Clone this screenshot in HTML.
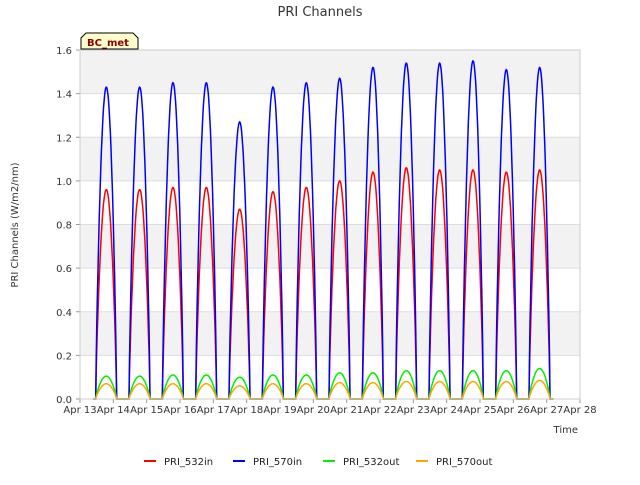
<!DOCTYPE html>
<html><head><meta charset="utf-8"><style>
body{margin:0;background:#fff;font-family:"Liberation Sans","DejaVu Sans",sans-serif}
svg text{font-family:"DejaVu Sans","Liberation Sans",sans-serif}
</style></head><body>
<svg id="c" width="640" height="480">
<rect width="640" height="480" fill="#fff"/>
<text x="320" y="16" text-anchor="middle" font-size="13" fill="#333">PRI Channels</text>
<text transform="translate(18,225) rotate(-90)" text-anchor="middle" font-size="10" fill="#333">PRI Channels (W/m2/nm)</text>
<text x="578" y="433" text-anchor="end" font-size="10" fill="#333">Time</text>
<g id="grid"></g>
<g id="series"></g>
<g id="axes"></g>
<g>
<path d="M81,49 L81,38 L86,33 L133,33 L138,38 L138,49 Z" fill="#ffffcc" stroke="#000" stroke-width="1"/>
<text x="87" y="46" font-size="10" font-weight="bold" fill="#8b0000">BC_met</text>
</g>
<g id="legend"></g>
</svg>
<script>
const days=["Apr 13","Apr 14","Apr 15","Apr 16","Apr 17","Apr 18","Apr 19","Apr 20","Apr 21","Apr 22","Apr 23","Apr 24","Apr 25","Apr 26","Apr 27","Apr 28"];
const yTicks=[0,0.2,0.4,0.6,0.8,1.0,1.2,1.4,1.6];
const peak570in=[1.43,1.43,1.45,1.45,1.27,1.43,1.45,1.47,1.52,1.54,1.54,1.55,1.51,1.52];
const peak532in=[0.96,0.96,0.97,0.97,0.87,0.95,0.97,1.0,1.04,1.06,1.05,1.05,1.04,1.05];
const peak532out=[0.105,0.105,0.11,0.11,0.1,0.11,0.11,0.12,0.12,0.13,0.13,0.13,0.13,0.14];
const peak570out=[0.07,0.07,0.07,0.07,0.06,0.07,0.07,0.075,0.075,0.08,0.08,0.08,0.08,0.085];
const X0=80,X1=580,Y0=399,Y1=50;
const x=d=>X0+d/15*(X1-X0);
const y=v=>Y0-v/1.6*(Y0-Y1);
const NS="http://www.w3.org/2000/svg";
function el(t,a,p){const e=document.createElementNS(NS,t);for(const k in a)e.setAttribute(k,a[k]);p.appendChild(e);return e;}
const grid=document.getElementById('grid');
for(let i=0;i<yTicks.length-1;i++){
  const r=el('rect',{x:X0,y:y(yTicks[i+1]),width:X1-X0,height:y(yTicks[i])-y(yTicks[i+1]),fill:i%2?'#f2f2f2':'#fff'},grid);
  
  
}
yTicks.forEach(v=>{
  const l=el('line',{x1:X0,x2:X1,y1:y(v),y2:y(v),stroke:'#ddd'},grid);
  
  
});
const axes=document.getElementById('axes');
yTicks.forEach(v=>{
  const t=el('text',{x:X0-8,y:y(v)+4,'text-anchor':'end','font-size':'10',fill:'#333'},axes);
  t.textContent=v.toFixed(1);
  
  
  el('line',{x1:X0-4,x2:X0,y1:y(v),y2:y(v),stroke:'#999'},axes);
});
days.forEach((d,i)=>{
  const t=el('text',{x:x(i),y:413,'text-anchor':'middle','font-size':'10',fill:'#333'},axes);
  t.textContent=d;
  
  
  el('line',{x1:x(i),x2:x(i),y1:Y0,y2:Y0+4,stroke:'#999'},axes);
});
el('rect',{x:X0,y:Y1,width:X1-X0,height:Y0-Y1,fill:'none',stroke:'#ccc'},axes);
function pathFor(peaks){
  let d='M'+x(0.4)+','+y(0);
  peaks.forEach((p,i)=>{
    const s=i+0.47,e=i+1.1,pk=i+0.79;
    d+=' L'+x(s).toFixed(1)+','+y(0);
    for(let k=0;k<=40;k++){
      const t=s+(e-s)*k/40;
      const f=t<pk?Math.sin((t-s)/(pk-s)*Math.PI/2):Math.cos((t-pk)/(e-pk)*Math.PI/2);
      d+=' L'+x(t).toFixed(1)+','+y(p*Math.pow(Math.max(f,0),0.8)).toFixed(1);
    }
    d+=' L'+x(Math.min(i+1.45,14.2)).toFixed(1)+','+y(0);
  });
  return d;
}
const series=document.getElementById('series');
const defs=[["PRI_532in",peak532in,"#ff0000"],["PRI_570in",peak570in,"#0000ff"],["PRI_532out",peak532out,"#00ee00"],["PRI_570out",peak570out,"#ffa500"]];
defs.forEach(([n,p,c])=>{
  const pa=el('path',{d:pathFor(p),fill:'none',stroke:c,'stroke-width':'1.5'},series);
  
  
});
const lg=document.getElementById('legend');
const lx=[144,233,323,416];
defs.forEach(([n,p,c],i)=>{
  const g=el('g',{},lg);
  
  
  el('line',{x1:lx[i],x2:lx[i]+12,y1:461,y2:461,stroke:c,'stroke-width':'2'},g);
  const t=el('text',{x:lx[i]+20,y:465,'font-size':'10',fill:'#222'},g);
  t.textContent=n;
});
</script>
</body></html>
